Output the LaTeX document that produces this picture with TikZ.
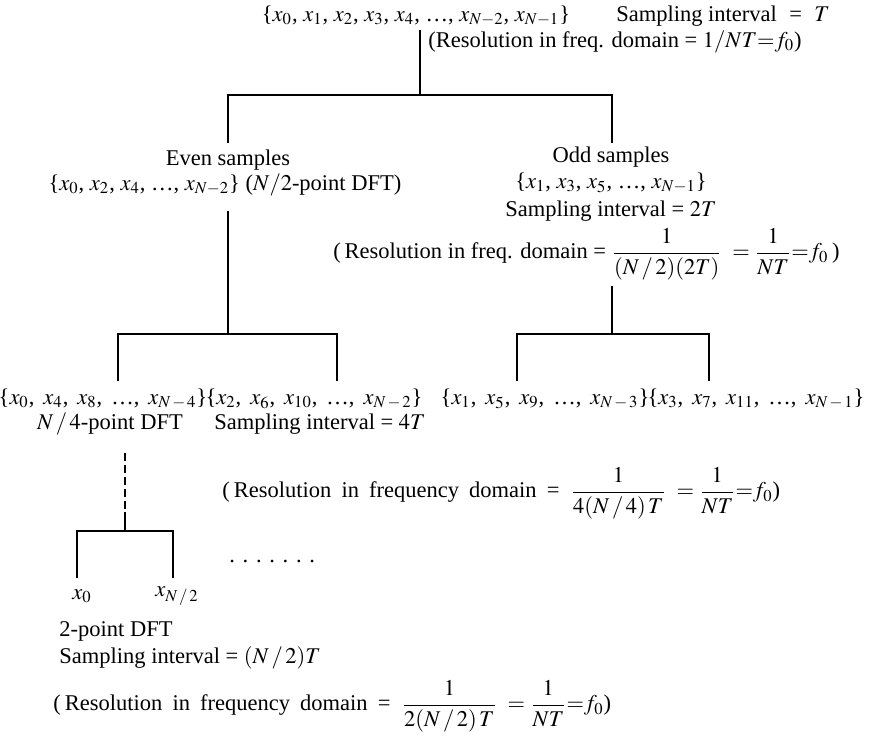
\documentclass[tikz,border=0pt]{standalone}
\usepackage{mathptmx}
\usepackage[no-math]{fontspec}
\setmainfont{Liberation Serif}
\newcommand\dgap{\kern3.85pt}
\newcommand\isep{,\hspace{0.4em}}
\newcommand\wsp{\hspace{0.45em}}
\newcommand\sla{\mkern2mu/\mkern2mu}
\begin{document}
\begin{tikzpicture}[x=0.5pt,y=-0.5pt,
  txt/.style={inner sep=0pt,font=\fontsize{11.25}{13.5}\selectfont},
  tree/.style={line width=1pt,line cap=butt},
  dashtree/.style={line width=1pt,dash pattern=on 4pt off 2pt}]
\useasboundingbox (0,0) rectangle (874,735);
% texts
\node[txt] (top) at (416,16) {\{$x_0$, $x_1$, $x_2$, $x_3$, $x_4$, \ldots, $x_{N-2}$, $x_{N-1}$\}};
\node[txt] (samp1) at (723,16) {Sampling interval\hspace{0.55em}=\hspace{0.55em}$T$};
\node[txt,anchor=west] (res1) at (428,42) {(Resolution in freq. domain = $1/NT{=}f_0$)};
\node[txt] (even) at (228,160) {Even samples};
\node[txt] (evenset) at (225,185) {\{$x_0$, $x_2$, $x_4$, \ldots, $x_{N-2}$\} ($N/2$-point DFT)};
\node[txt] (odd) at (611,157) {Odd samples};
\node[txt] (oddset) at (611,183) {\{$x_1$, $x_3$, $x_5$, \ldots, $x_{N-1}$\}};
\node[txt] (samp2) at (611,211) {Sampling interval = $2T$};
\node[txt,anchor=west] (res2) at (333,254) {(\,Resolution in freq. domain = $\displaystyle\frac{1}{(N\sla 2)(2T)}\ = \frac{1}{NT}{=}f_0$\,)};
\node[txt] (s1) at (103,399) {\{$x_0$\isep$x_4$\isep$x_8$\isep\ldots\isep$x_{N\,-\,4}$\}};
\node[txt] (s2) at (314,399) {\{$x_2$\isep$x_6$\isep$x_{10}$\isep\ldots\isep$x_{N\,-\,2}$\}};
\node[txt] (s3) at (545,399) {\{$x_1$\isep$x_5$\isep$x_9$\isep\ldots\isep$x_{N\,-\,3}$\}};
\node[txt] (s4) at (756,399) {\{$x_3$\isep$x_7$\isep$x_{11}$\isep\ldots\isep$x_{N\,-\,1}$\}};
\node[txt] (n4) at (110,424) {$N\sla 4$-point DFT};
\node[txt] (samp4) at (320,424) {Sampling interval = $4T$};
\node[txt,anchor=west] (res3) at (222,493) {(\kern2pt Resolution\wsp in\wsp frequency\wsp domain\wsp=\ \ $\displaystyle\frac{1}{4(N\sla 4)\,T}\ = \frac{1}{NT}{=}f_0$)};
\node[txt,anchor=base west] (dots) at (229,562) {.\dgap.\dgap.\dgap.\dgap.\dgap.\dgap.};
\node[txt] (xa) at (82,596) {$x_0$};
\node[txt] (xb) at (177,596) {$x_{N\sla 2}$};
\node[txt,anchor=west] (two) at (59,631) {2-point DFT};
\node[txt,anchor=west] (samp5) at (59,658) {Sampling interval = $(N\sla 2)T$};
\node[txt,anchor=west] (res4) at (53,706) {(\kern2pt Resolution\wsp in\wsp frequency\wsp domain\wsp=\ \ $\displaystyle\frac{1}{2(N\sla 2)\,T}\ = \frac{1}{NT}{=}f_0$)};
% tree coordinates
\coordinate (a0) at (420,30);
\coordinate (a1) at (420,95);
\coordinate (aL) at (228,95);
\coordinate (aR) at (612,95);
\coordinate (aLd) at (228,143);
\coordinate (aRd) at (612,143);
\coordinate (b0) at (228,211);
\coordinate (b1) at (228,334);
\coordinate (bL) at (118,334);
\coordinate (bR) at (337,334);
\coordinate (bLd) at (118,381);
\coordinate (bRd) at (337,381);
\coordinate (c0) at (612,286);
\coordinate (c1) at (612,334);
\coordinate (cL) at (517,334);
\coordinate (cR) at (709,334);
\coordinate (cLd) at (517,381);
\coordinate (cRd) at (709,381);
\coordinate (d0) at (125,453);
\coordinate (dm) at (125,512);
\coordinate (d1) at (125,531);
\coordinate (dL) at (77,531);
\coordinate (dR) at (173,531);
\coordinate (dLd) at (77,578);
\coordinate (dRd) at (173,578);
% connectors
\draw[tree] (a0) -- (a1);
\draw[tree] (aLd) -- (aL) -- (aR) -- (aRd);
\draw[tree] (b0) -- (b1);
\draw[tree] (bLd) -- (bL) -- (bR) -- (bRd);
\draw[tree] (c0) -- (c1);
\draw[tree] (cLd) -- (cL) -- (cR) -- (cRd);
\draw[dashtree] (d0) -- (dm);
\draw[tree] (dm) -- (d1);
\draw[tree] (dLd) -- (dL) -- (dR) -- (dRd);
\end{tikzpicture}
\end{document}
